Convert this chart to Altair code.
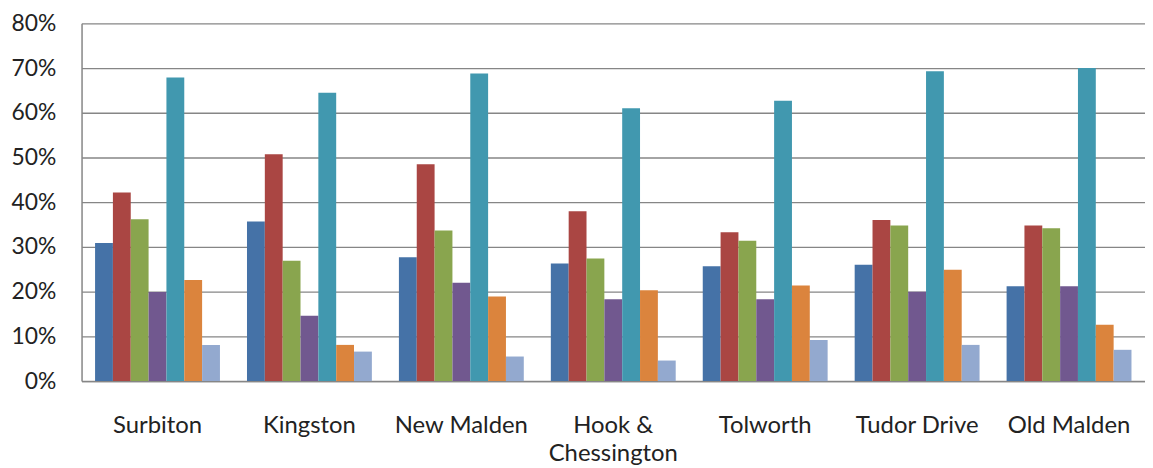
import altair as alt
import pandas as pd

areas = ["Surbiton", "Kingston", "New Malden", "Hook & Chessington", "Tolworth", "Tudor Drive", "Old Malden"]
series_names = ["Series 1", "Series 2", "Series 3", "Series 4", "Series 5", "Series 6", "Series 7"]
series_colors = ["#4572A7", "#AA4643", "#89A54E", "#71588F", "#4198AF", "#DB843D", "#93A9CF"]

s1 = [30.9, 35.7, 27.7, 26.3, 25.7, 26.0, 21.2]
s2 = [42.2, 50.7, 48.5, 38.0, 33.3, 36.0, 34.8]
s3 = [36.2, 26.9, 33.7, 27.4, 31.4, 34.8, 34.2]
s4 = [19.9, 14.6, 22.0, 18.3, 18.3, 20.0, 21.2]
s5 = [67.9, 64.5, 68.8, 61.0, 62.7, 69.3, 70.0]
s6 = [22.6, 8.1, 18.9, 20.3, 21.4, 24.9, 12.6]
s7 = [8.1, 6.6, 5.5, 4.6, 9.2, 8.1, 7.0]

all_series = [s1, s2, s3, s4, s5, s6, s7]
rows = []
for name, vals in zip(series_names, all_series):
    for area, v in zip(areas, vals):
        rows.append({"area": area, "series": name, "value": v / 100})
df = pd.DataFrame(rows)

FONT = "Lato"

chart = alt.Chart(df).mark_bar().encode(
    x=alt.X("area:N", sort=areas, title=None,
            scale=alt.Scale(paddingInner=0.178, paddingOuter=0.089),
            axis=alt.Axis(labelAngle=0, labelFont=FONT, labelFontSize=24, labelColor="#222222",
                          labelPadding=33, ticks=False, domainColor="#868686", domainWidth=1.5,
                          labelLineHeight=28,
                          labelExpr="datum.label == 'Hook & Chessington' ? ['Hook &', 'Chessington'] : datum.label")),
    xOffset=alt.XOffset("series:N", sort=series_names, scale=alt.Scale(paddingInner=0, paddingOuter=0)),
    y=alt.Y("value:Q", title=None,
            scale=alt.Scale(domain=[0, 0.8], nice=False),
            axis=alt.Axis(format=".0%", values=[0, 0.1, 0.2, 0.3, 0.4, 0.5, 0.6, 0.7, 0.8],
                          labelFont=FONT, labelFontSize=23, labelColor="#222222",
                          labelPadding=26, ticks=False, domainColor="#868686", domainWidth=1.5,
                          gridColor="#868686", gridWidth=1.3)),
    color=alt.Color("series:N", sort=series_names,
                    scale=alt.Scale(domain=series_names, range=series_colors), legend=None),
).properties(
    width=1070, height=360,
    autosize=alt.AutoSizeParams(type="none"),
    padding={"left": 74, "top": 14, "right": 0, "bottom": 86},
).configure_view(stroke=None)

chart.save("out.html", embed_options={"renderer": "svg", "actions": False})
